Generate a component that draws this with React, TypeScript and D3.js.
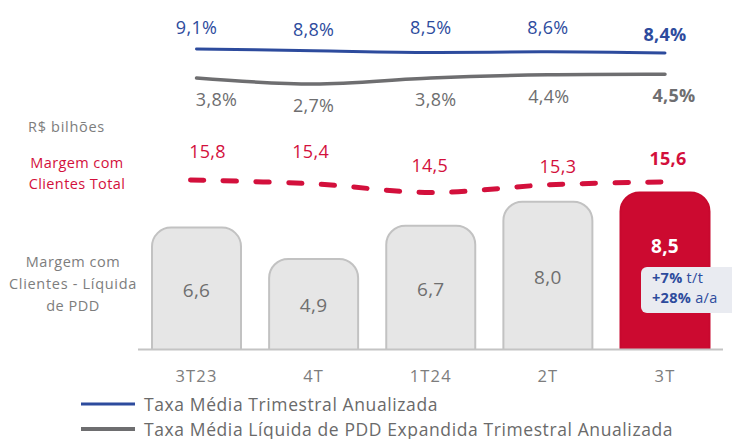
import React from "react";
import * as d3 from "d3";

const categories = ["3T23", "4T", "1T24", "2T", "3T"];
const barValues = [6.6, 4.9, 6.7, 8.0, 8.5];
const taxaMedia = [9.1, 8.8, 8.5, 8.6, 8.4];
const taxaLiquida = [3.8, 2.7, 3.8, 4.4, 4.5];
const margemTotal = [15.8, 15.4, 14.5, 15.3, 15.6];
const barLabels = ["6,6", "4,9", "6,7", "8,0", "8,5"];
const taxaMediaLabels = ["9,1%", "8,8%", "8,5%", "8,6%", "8,4%"];
const taxaLiquidaLabels = ["3,8%", "2,7%", "3,8%", "4,4%", "4,5%"];
const margemTotalLabels = ["15,8", "15,4", "14,5", "15,3", "15,6"];
const legendLabels = [
  "Taxa Média Trimestral Anualizada",
  "Taxa Média Líquida de PDD Expandida Trimestral Anualizada",
];

const W = 732;
const H = 439;
const FONT = "'Open Sans', 'Noto Sans', sans-serif";
const BLUE = "#2d4b9d";
const GRAY_LINE = "#6e6e70";
const GRAY_TEXT = "#7d7d7d";
const RED = "#d3103c";
const RED_BAR = "#cc0a30";

// layout tweaks for labels (pixels)
const grayDx = [20, 0, 5, 1, 9];
const redDx = [11, -3, -1, 10, 3];
const redBaselines = [158, 158, 172, 173, 165];
const blueBaselines = [34, 35.5, 33.5, 33.5, 40.5];

function topRoundedBar(x: number, y: number, w: number, h: number, r: number) {
  const rr = Math.min(r, w / 2, h);
  const p = d3.path();
  p.moveTo(x, y + h);
  p.lineTo(x, y + rr);
  p.arcTo(x, y, x + rr, y, rr);
  p.lineTo(x + w - rr, y);
  p.arcTo(x + w, y, x + w, y + rr, rr);
  p.lineTo(x + w, y + h);
  return p.toString();
}

export default function App() {
  const x = d3.scalePoint<string>().domain(categories).range([196.5, 665]);
  const barW = 89;
  const baseY = 349.5;
  const yBar = d3.scaleLinear().domain([0, 8.5]).range([baseY, 192.5]);
  const yBlue = d3.scaleLinear().domain([8.4, 9.1]).range([53, 49]);
  const yGray = d3.scaleLinear().domain([2.7, 4.5]).range([84, 74.2]);
  const yRed = d3.scaleLinear().domain([14.5, 15.8]).range([192.5, 180]);

  const lineBlue = d3
    .line<number>()
    .x((_, i) => x(categories[i])!)
    .y((d) => yBlue(d))
    .curve(d3.curveMonotoneX);
  const lineGray = d3
    .line<number>()
    .x((_, i) => x(categories[i])!)
    .y((d) => yGray(d))
    .curve(d3.curveCatmullRom.alpha(0.5));
  const lineRed = d3
    .line<number>()
    .x((_, i) => x(categories[i])! - (i === 0 ? 6 : 0))
    .y((d) => yRed(d))
    .curve(d3.curveCatmullRom.alpha(0.5));

  const last = categories.length - 1;

  return (
    <svg
      width={W}
      height={H}
      style={{ position: "absolute", left: 0, top: 0, background: "#fff" }}
      fontFamily={FONT}
    >
      {/* blue line + labels */}
      <path d={lineBlue(taxaMedia)!} fill="none" stroke={BLUE} strokeWidth={3} strokeLinecap="round" />
      {taxaMediaLabels.map((t, i) => (
        <text
          key={"b" + i}
          x={x(categories[i])!}
          y={blueBaselines[i]}
          textAnchor="middle"
          fontSize={18}
          letterSpacing={0.3}
          fontWeight={i === last ? 700 : 400}
          fill={BLUE}
        >
          {t}
        </text>
      ))}

      {/* gray line + labels */}
      <path d={lineGray(taxaLiquida)!} fill="none" stroke={GRAY_LINE} strokeWidth={3.5} strokeLinecap="round" />
      {taxaLiquidaLabels.map((t, i) => (
        <text
          key={"g" + i}
          x={x(categories[i])! + grayDx[i]}
          y={yGray(taxaLiquida[i]) + 28}
          textAnchor="middle"
          fontSize={18}
          letterSpacing={0.3}
          fontWeight={i === last ? 700 : 400}
          fill={GRAY_LINE}
        >
          {t}
        </text>
      ))}

      {/* left side labels */}
      <text x={28} y={132} fontSize={14.5} letterSpacing={0.7} fill={GRAY_TEXT}>
        R$ bilhões
      </text>
      <text x={77} y={168} textAnchor="middle" fontSize={14.5} letterSpacing={0.4} fill={RED}>
        Margem com
      </text>
      <text x={77} y={189} textAnchor="middle" fontSize={14.5} letterSpacing={0.4} fill={RED}>
        Clientes Total
      </text>
      <text x={73} y={267} textAnchor="middle" fontSize={14.5} letterSpacing={0.5} fill={GRAY_TEXT}>
        Margem com
      </text>
      <text x={73} y={289} textAnchor="middle" fontSize={14.5} letterSpacing={0.7} fill={GRAY_TEXT}>
        Clientes - Líquida
      </text>
      <text x={73} y={311} textAnchor="middle" fontSize={14.5} letterSpacing={0.5} fill={GRAY_TEXT}>
        de PDD
      </text>

      {/* red dashed line + labels */}
      <path
        d={lineRed(margemTotal)!}
        fill="none"
        stroke={RED}
        strokeWidth={5}
        strokeLinecap="round"
        strokeDasharray="13.3 19.4"
      />
      {margemTotalLabels.map((t, i) => (
        <text
          key={"r" + i}
          x={x(categories[i])! + redDx[i]}
          y={redBaselines[i]}
          textAnchor="middle"
          fontSize={18}
          letterSpacing={0.3}
          fontWeight={i === last ? 700 : 400}
          fill={RED}
        >
          {t}
        </text>
      ))}

      {/* bars */}
      {barValues.map((v, i) => {
        const cx = x(categories[i])!;
        const top = yBar(v);
        const isLast = i === last;
        return (
          <g key={"bar" + i}>
            <path
              d={topRoundedBar(cx - barW / 2, top, barW, baseY - top, 19)}
              fill={isLast ? RED_BAR : "#e6e6e6"}
              stroke={isLast ? "#c8092e" : "#c2c2c2"}
              strokeWidth={2}
            />
            <text
              x={cx}
              y={isLast ? top + 60 : (top + baseY) / 2 + 8}
              textAnchor="middle"
              fontSize={19}
              letterSpacing={0.3}
              fontWeight={isLast ? 700 : 400}
              fill={isLast ? "#ffffff" : "#6f6f6f"}
            >
              {barLabels[i]}
            </text>
          </g>
        );
      })}

      {/* axis baseline */}
      <line x1={138} x2={723} y1={baseY} y2={baseY} stroke="#c4c4c4" strokeWidth={2} />

      {/* annotation box */}
      <rect x={641} y={267} width={100} height={46} rx={6} fill="#e9ebf1" />
      <text x={652} y={283} fontSize={14.5} letterSpacing={0.3} fill={BLUE}>
        <tspan fontWeight={700}>+7%</tspan>
        <tspan> t/t</tspan>
      </text>
      <text x={652} y={303} fontSize={14.5} letterSpacing={0.3} fill={BLUE}>
        <tspan fontWeight={700}>+28%</tspan>
        <tspan> a/a</tspan>
      </text>

      {/* x axis labels */}
      {categories.map((c, i) => (
        <text
          key={"x" + i}
          x={x(c)!}
          y={382}
          textAnchor="middle"
          fontSize={16.5}
          letterSpacing={1.2}
          fill={GRAY_TEXT}
        >
          {c}
        </text>
      ))}

      {/* legend */}
      {legendLabels.map((t, i) => (
        <g key={"lg" + i}>
          <line
            x1={81}
            x2={135}
            y1={404 + i * 25}
            y2={404 + i * 25}
            stroke={i === 0 ? BLUE : GRAY_LINE}
            strokeWidth={i === 0 ? 3 : 4}
          />
          <text x={144} y={411 + i * 24.5} fontSize={17.5} letterSpacing={0.6} fill="#6a6a6a">
            {t}
          </text>
        </g>
      ))}
    </svg>
  );
}
